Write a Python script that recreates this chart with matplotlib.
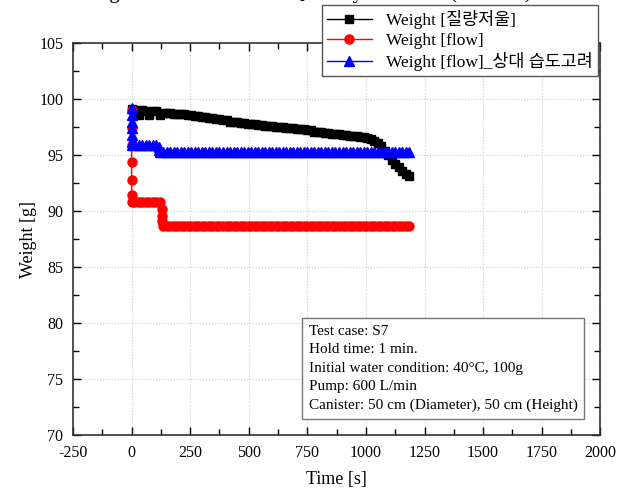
import matplotlib
matplotlib.use("Agg")
import matplotlib.pyplot as plt
from matplotlib.ticker import MultipleLocator
import numpy as np

plt.rcParams['font.family'] = ['Liberation Serif', 'Noto Sans CJK KR']
plt.rcParams['axes.unicode_minus'] = False

# Weight [질량저울] - every 15 s
t_scale = list(range(0, 1200, 15))
w_scale = [99.1, 99.0, 98.6, 99.0, 98.9, 98.6, 98.9, 98.9, 98.6, 98.8,
           98.8, 98.8, 98.7, 98.7, 98.7, 98.7, 98.6, 98.6, 98.5, 98.5,
           98.4, 98.4, 98.3, 98.3, 98.2, 98.2, 98.1, 98.1, 98.0, 98.0,
           98.0, 97.9, 97.9, 97.8, 97.8, 97.8, 97.7, 97.7, 97.6, 97.6,
           97.6, 97.5, 97.5, 97.5, 97.4, 97.4, 97.4, 97.3, 97.3, 97.3,
           97.2, 97.2, 97.1, 97.1, 97.1, 97.0, 97.0, 96.9, 96.9, 96.9,
           96.8, 96.8, 96.7, 96.7, 96.7, 96.6, 96.6, 96.5, 96.4, 96.3,
           96.1, 95.8, 95.4, 95.0, 94.6, 94.2, 93.9, 93.6, 93.3, 93.1]

# Weight [flow]
t_flow = [0, 0, 0, 0, 0, 0, 0] + list(range(15, 135, 15)) + [128, 128, 128] + list(range(135, 1200, 15))
w_flow = ([99.0, 97.4, 95.9, 94.4, 92.8, 91.4, 90.8]
          + [90.8] * 8
          + [90.2, 89.6, 89.1]
          + [88.7] * 71)

# Weight [flow]_상대 습도고려
t_rh = [0, 0, 0, 0, 0, 0, 0] + list(range(15, 120, 15)) + [115, 115] + list(range(120, 1200, 15))
w_rh = ([99.2, 98.6, 98.0, 97.4, 96.8, 96.2, 95.9]
        + [95.9] * 7
        + [95.7, 95.5]
        + [95.3] * 72)

fig = plt.figure(figsize=(6.24, 4.9), dpi=100)
ax = fig.add_axes([0.117, 0.112, 0.845, 0.8])

ax.plot(t_scale, w_scale, color="black", marker="s", markersize=6, linewidth=1,
        label="Weight [질량저울]")
ax.plot(t_flow, w_flow, color="red", marker="o", markersize=6.5, linewidth=1,
        label="Weight [flow]")
ax.plot(t_rh, w_rh, color="blue", marker="^", markersize=6.5, linewidth=1,
        label="Weight [flow]_상대 습도고려")

ax.set_xlim(-250, 2000)
ax.set_ylim(70, 105)
ax.xaxis.set_major_locator(MultipleLocator(250))
ax.xaxis.set_minor_locator(MultipleLocator(125))
ax.yaxis.set_major_locator(MultipleLocator(5))
ax.yaxis.set_minor_locator(MultipleLocator(2.5))
ax.tick_params(which="both", direction="in", top=True, right=True, labelsize=11.5)
ax.tick_params(which="major", length=6, width=1, pad=7)
ax.tick_params(which="minor", length=4, width=1)
ax.grid(True, which="major", linestyle=":", color="#cccccc", linewidth=0.8)
for s in ax.spines.values():
    s.set_linewidth(1.2)
    s.set_color("#333333")

ax.set_xlabel("Time [s]", fontsize=13, labelpad=7)
ax.set_ylabel("Weight [g]", fontsize=13, labelpad=2)

leg = ax.legend(loc="upper right", bbox_to_anchor=(0.958, 0.99),
                bbox_transform=fig.transFigure, borderaxespad=0,
                fancybox=False, edgecolor="#555555", fontsize=12.5,
                handlelength=2.6, labelspacing=0.2, borderpad=0.3)
leg.get_frame().set_linewidth(1)
leg.get_frame().set_alpha(1)

info = ("Test case: S7\n"
        "Hold time: 1 min.\n"
        "Initial water condition: 40\u00b0C, 100g\n"
        "Pump: 600 L/min\n"
        "Canister: 50 cm (Diameter), 50 cm (Height)")
ax.text(0.447, 0.058, info, transform=ax.transAxes, ha="left", va="bottom",
        fontsize=11, linespacing=1.55,
        bbox=dict(boxstyle="square,pad=0.45", fc="white", ec="#777777", lw=1))

fig.text(0.5, 1.013, "Fig. 37 Residual Water Quantity Variation (Case S7)",
         ha="center", va="center", fontsize=15)

fig.savefig("out.png", dpi=100)
